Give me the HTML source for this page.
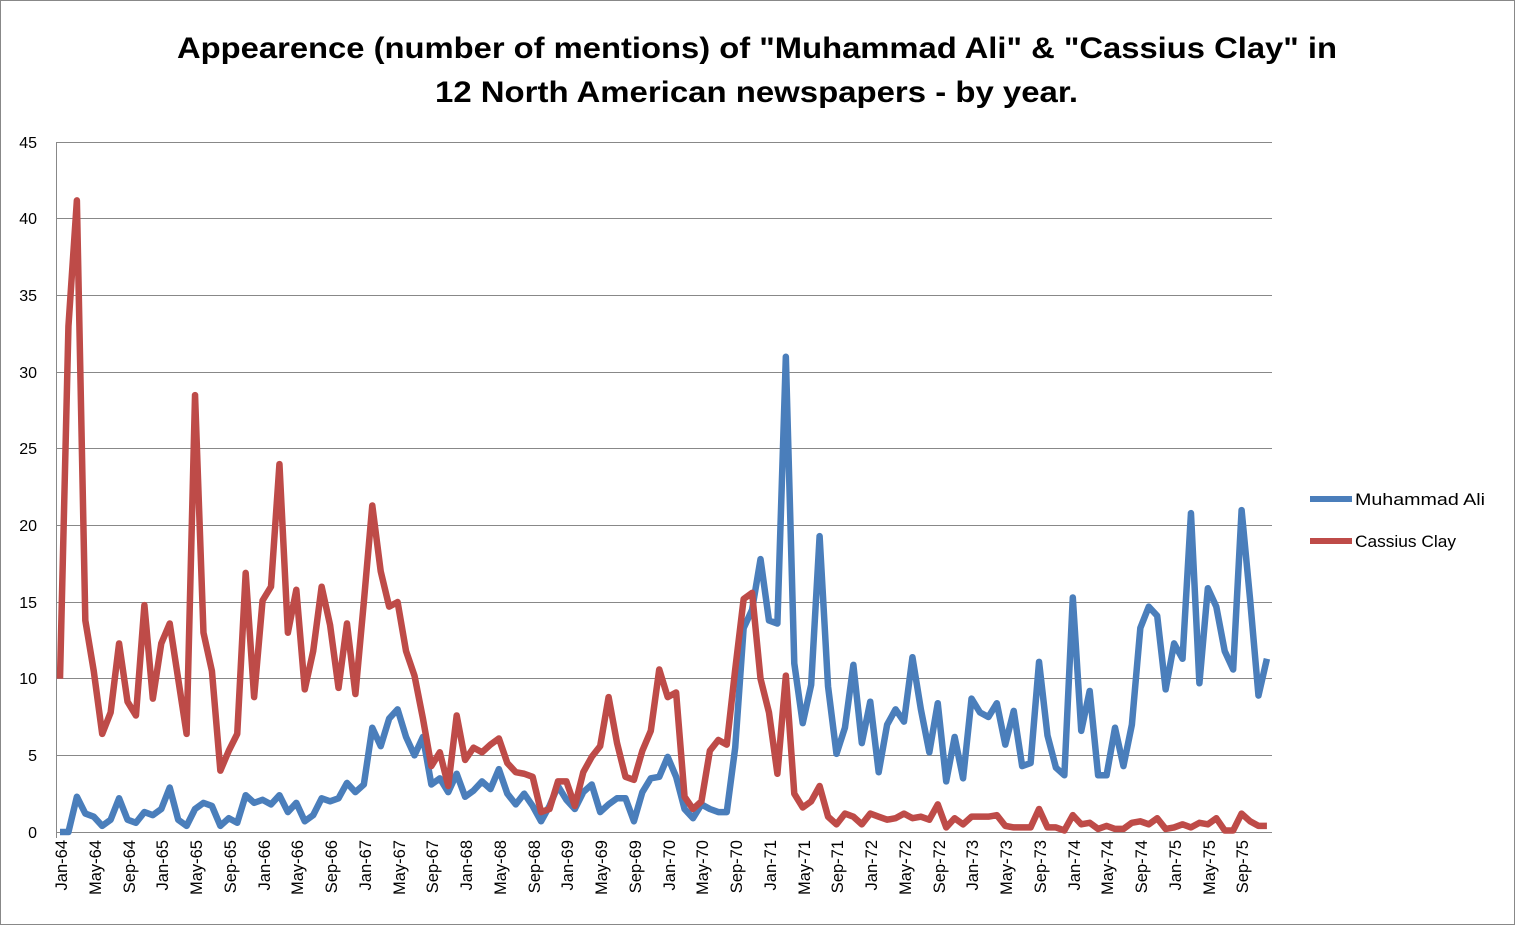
<!DOCTYPE html>
<html><head><meta charset="utf-8"><style>
html,body{margin:0;padding:0;background:#fff;}
svg{display:block;font-family:"Liberation Sans",Arial,sans-serif;}
</style></head><body>
<svg width="1515" height="925" viewBox="0 0 1515 925">
<rect x="0.5" y="0.5" width="1514" height="924" fill="#fff" stroke="#888"/>
<text x="177" y="58" font-size="30" font-weight="bold" textLength="1160" lengthAdjust="spacingAndGlyphs">Appearence (number of mentions) of "Muhammad Ali" &amp; "Cassius Clay" in</text>
<text x="435" y="102" font-size="30" font-weight="bold" textLength="643" lengthAdjust="spacingAndGlyphs">12 North American newspapers - by year.</text>
<g stroke="#888" stroke-width="1">
<line x1="56" x2="1272" y1="142.5" y2="142.5"/><line x1="56" x2="1272" y1="218.5" y2="218.5"/>
<line x1="56" x2="1272" y1="295.5" y2="295.5"/><line x1="56" x2="1272" y1="372.5" y2="372.5"/>
<line x1="56" x2="1272" y1="448.5" y2="448.5"/><line x1="56" x2="1272" y1="525.5" y2="525.5"/>
<line x1="56" x2="1272" y1="602.5" y2="602.5"/><line x1="56" x2="1272" y1="678.5" y2="678.5"/>
<line x1="56" x2="1272" y1="755.5" y2="755.5"/><line x1="56" x2="1272" y1="832.5" y2="832.5"/>
<line x1="56.5" x2="56.5" y1="142" y2="838"/>
</g>
<g font-size="16" text-anchor="end">
<text x="37" y="148">45</text><text x="37" y="224">40</text><text x="37" y="301">35</text>
<text x="37" y="378">30</text><text x="37" y="454">25</text><text x="37" y="531">20</text>
<text x="37" y="608">15</text><text x="37" y="684">10</text><text x="37" y="761">5</text>
<text x="37" y="838">0</text>
</g>
<g font-size="16.5" text-anchor="end">
<text transform="translate(67,840) rotate(-90)">Jan-64</text>
<text transform="translate(101,840) rotate(-90)">May-64</text>
<text transform="translate(135,840) rotate(-90)">Sep-64</text>
<text transform="translate(168,840) rotate(-90)">Jan-65</text>
<text transform="translate(202,840) rotate(-90)">May-65</text>
<text transform="translate(236,840) rotate(-90)">Sep-65</text>
<text transform="translate(270,840) rotate(-90)">Jan-66</text>
<text transform="translate(303,840) rotate(-90)">May-66</text>
<text transform="translate(337,840) rotate(-90)">Sep-66</text>
<text transform="translate(371,840) rotate(-90)">Jan-67</text>
<text transform="translate(405,840) rotate(-90)">May-67</text>
<text transform="translate(438,840) rotate(-90)">Sep-67</text>
<text transform="translate(472,840) rotate(-90)">Jan-68</text>
<text transform="translate(506,840) rotate(-90)">May-68</text>
<text transform="translate(540,840) rotate(-90)">Sep-68</text>
<text transform="translate(573,840) rotate(-90)">Jan-69</text>
<text transform="translate(607,840) rotate(-90)">May-69</text>
<text transform="translate(641,840) rotate(-90)">Sep-69</text>
<text transform="translate(675,840) rotate(-90)">Jan-70</text>
<text transform="translate(708,840) rotate(-90)">May-70</text>
<text transform="translate(742,840) rotate(-90)">Sep-70</text>
<text transform="translate(776,840) rotate(-90)">Jan-71</text>
<text transform="translate(810,840) rotate(-90)">May-71</text>
<text transform="translate(843,840) rotate(-90)">Sep-71</text>
<text transform="translate(877,840) rotate(-90)">Jan-72</text>
<text transform="translate(911,840) rotate(-90)">May-72</text>
<text transform="translate(945,840) rotate(-90)">Sep-72</text>
<text transform="translate(978,840) rotate(-90)">Jan-73</text>
<text transform="translate(1012,840) rotate(-90)">May-73</text>
<text transform="translate(1046,840) rotate(-90)">Sep-73</text>
<text transform="translate(1080,840) rotate(-90)">Jan-74</text>
<text transform="translate(1113,840) rotate(-90)">May-74</text>
<text transform="translate(1147,840) rotate(-90)">Sep-74</text>
<text transform="translate(1181,840) rotate(-90)">Jan-75</text>
<text transform="translate(1215,840) rotate(-90)">May-75</text>
<text transform="translate(1248,840) rotate(-90)">Sep-75</text>
</g>
<g transform="translate(60,832) scale(8.44,-15.33)" fill="none" stroke-width="6.5" stroke-linejoin="round">
<polyline vector-effect="non-scaling-stroke" stroke="#4a7ebb" points="0,0 1,0 2,2.3 3,1.2 4,1 5,0.4 6,0.8 7,2.2 8,0.8 9,0.6 10,1.3 11,1.1 12,1.5 13,2.9 14,0.8 15,0.4 16,1.5 17,1.9 18,1.7 19,0.4 20,0.9 21,0.6 22,2.4 23,1.9 24,2.1 25,1.8 26,2.4 27,1.3 28,1.9 29,0.7 30,1.1 31,2.2 32,2 33,2.2 34,3.2 35,2.6 36,3.1 37,6.8 38,5.6 39,7.4 40,8 41,6.2 42,5 43,6.2 44,3.1 45,3.5 46,2.6 47,3.8 48,2.3 49,2.7 50,3.3 51,2.8 52,4.1 53,2.5 54,1.8 55,2.5 56,1.7 57,0.7 58,1.7 59,3 60,2.1 61,1.5 62,2.6 63,3.1 64,1.3 65,1.8 66,2.2 67,2.2 68,0.7 69,2.6 70,3.5 71,3.6 72,4.9 73,3.6 74,1.5 75,0.9 76,1.8 77,1.5 78,1.3 79,1.3 80,5.5 81,13.3 82,14.5 83,17.8 84,13.8 85,13.6 86,31 87,11 88,7.1 89,9.6 90,19.3 91,9.5 92,5.1 93,6.8 94,10.9 95,5.8 96,8.5 97,3.9 98,7 99,8 100,7.2 101,11.4 102,8 103,5.2 104,8.4 105,3.3 106,6.2 107,3.5 108,8.7 109,7.8 110,7.5 111,8.4 112,5.7 113,7.9 114,4.3 115,4.5 116,11.1 117,6.3 118,4.2 119,3.7 120,15.3 121,6.6 122,9.2 123,3.7 124,3.7 125,6.8 126,4.3 127,7 128,13.3 129,14.7 130,14.1 131,9.3 132,12.3 133,11.3 134,20.8 135,9.7 136,15.9 137,14.7 138,11.8 139,10.6 140,21 141,15.2 142,8.9 143,11.3"/>
<polyline vector-effect="non-scaling-stroke" stroke="#be4b48" points="0,10 1,33 2,41.2 3,13.8 4,10.5 5,6.4 6,7.8 7,12.3 8,8.5 9,7.6 10,14.8 11,8.7 12,12.3 13,13.6 14,10 15,6.4 16,28.5 17,13 18,10.5 19,4 20,5.3 21,6.4 22,16.9 23,8.8 24,15.1 25,16 26,24 27,13 28,15.8 29,9.3 30,11.8 31,16 32,13.5 33,9.4 34,13.6 35,9 36,15 37,21.3 38,17 39,14.7 40,15 41,11.8 42,10.2 43,7.4 44,4.3 45,5.2 46,3 47,7.6 48,4.7 49,5.5 50,5.2 51,5.7 52,6.1 53,4.5 54,3.9 55,3.8 56,3.6 57,1.3 58,1.5 59,3.3 60,3.3 61,1.7 62,3.9 63,4.9 64,5.6 65,8.8 66,5.8 67,3.6 68,3.4 69,5.3 70,6.6 71,10.6 72,8.8 73,9.1 74,2.3 75,1.5 76,2 77,5.3 78,6 79,5.7 80,10.6 81,15.2 82,15.6 83,10 84,7.8 85,3.8 86,10.2 87,2.5 88,1.6 89,2 90,3 91,1 92,0.5 93,1.2 94,1 95,0.5 96,1.2 97,1 98,0.8 99,0.9 100,1.2 101,0.9 102,1 103,0.8 104,1.8 105,0.3 106,0.9 107,0.5 108,1 109,1 110,1 111,1.1 112,0.4 113,0.3 114,0.3 115,0.3 116,1.5 117,0.3 118,0.3 119,0.1 120,1.1 121,0.5 122,0.6 123,0.2 124,0.4 125,0.2 126,0.2 127,0.6 128,0.7 129,0.5 130,0.9 131,0.2 132,0.3 133,0.5 134,0.3 135,0.6 136,0.5 137,0.9 138,0.1 139,0.1 140,1.2 141,0.7 142,0.4 143,0.4"/>
</g>
<line x1="1310" x2="1352" y1="499" y2="499" stroke="#4a7ebb" stroke-width="6"/>
<line x1="1310" x2="1352" y1="541" y2="541" stroke="#be4b48" stroke-width="6"/>
<g font-size="17"><text x="1355" y="505" textLength="130" lengthAdjust="spacingAndGlyphs">Muhammad Ali</text><text x="1355" y="547" textLength="101" lengthAdjust="spacingAndGlyphs">Cassius Clay</text></g>
</svg>
</body></html>
